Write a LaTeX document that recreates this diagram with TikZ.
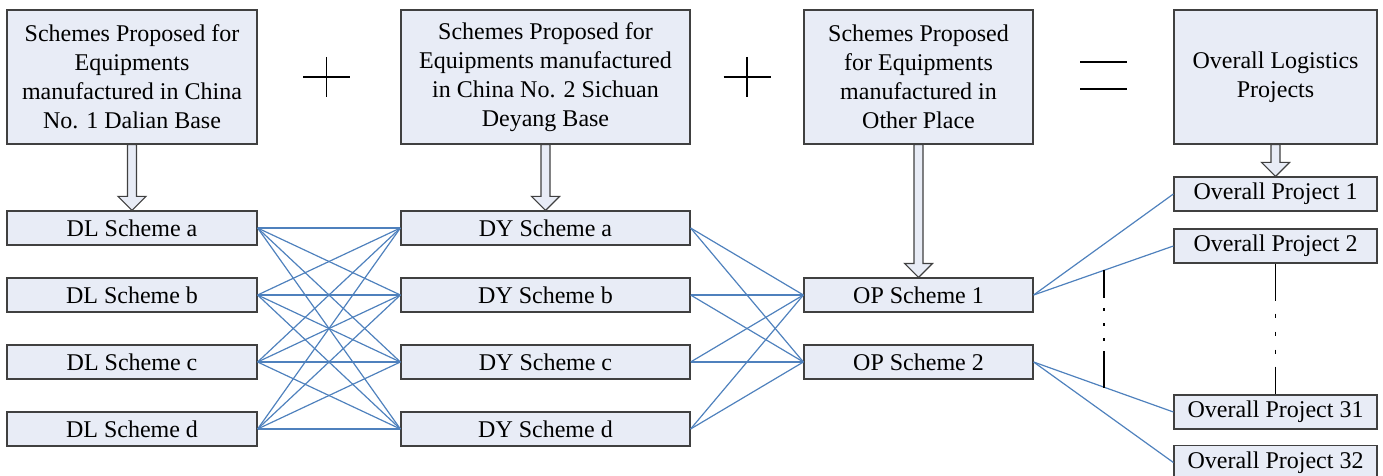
\documentclass[tikz,border=0pt]{standalone}
\usepackage{fontspec}
\setmainfont{Liberation Serif}
\usetikzlibrary{calc}

\definecolor{boxfill}{RGB}{232,236,246}
\definecolor{boxline}{RGB}{64,64,64}
\definecolor{linkblue}{RGB}{79,129,189}

\tikzset{
	box/.style={draw=boxline, fill=boxfill, line width=0.6pt, inner sep=0pt, align=center,
		font=\fontsize{12}{14.5}\selectfont},
	bigbox/.style={box, minimum height=67pt},
	rowbox/.style={box, minimum height=17pt},
	link/.style={draw=linkblue, line width=0.6pt},
	blockarr/.style={draw=boxline, fill=boxfill, line width=0.6pt, line join=miter},
	sign/.style={draw=black, line width=0.55pt}
}

% hollow block arrow from the bottom of #1 to the top of #2
\newcommand{\blockarrow}[2]{%
	\draw[blockarr] ($(#1.south)+(-4.5,0)$) -- ($(#2.north)+(-4.5,-14)$)
		-- ($(#2.north)+(-14,-14)$) -- (#2.north) -- ($(#2.north)+(14,-14)$)
		-- ($(#2.north)+(4.5,-14)$) -- ($(#1.south)+(4.5,0)$) -- cycle;}

\begin{document}
\begin{tikzpicture}[x=0.5pt, y=-0.5pt]
	\useasboundingbox (0,0) rectangle (1383,476);

	\node[bigbox, minimum width=125pt] (dalian) at (132, 77)
		{Schemes Proposed for\\Equipments\\manufactured in China\\No. 1 Dalian Base};
	\node[bigbox, minimum width=144.5pt] (deyang) at (545.5, 77)
		{Schemes Proposed for\\Equipments manufactured\\in China No. 2 Sichuan\\Deyang Base};
	\node[bigbox, minimum width=114.5pt] (other) at (918.5, 77)
		{Schemes Proposed\\for Equipments\\manufactured in\\Other Place};
	\node[bigbox, minimum width=101.5pt] (overall) at (1275.5, 77)
		{Overall Logistics\\Projects};

	\node[rowbox, minimum width=125pt] (dla) at (132, 228) {DL Scheme a};
	\node[rowbox, minimum width=125pt] (dlb) at (132, 295) {DL Scheme b};
	\node[rowbox, minimum width=125pt] (dlc) at (132, 362) {DL Scheme c};
	\node[rowbox, minimum width=125pt] (dld) at (132, 429) {DL Scheme d};

	\node[rowbox, minimum width=144.5pt] (dya) at (545.5, 228) {DY Scheme a};
	\node[rowbox, minimum width=144.5pt] (dyb) at (545.5, 295) {DY Scheme b};
	\node[rowbox, minimum width=144.5pt] (dyc) at (545.5, 362) {DY Scheme c};
	\node[rowbox, minimum width=144.5pt] (dyd) at (545.5, 429) {DY Scheme d};

	\node[rowbox, minimum width=114.5pt] (op1) at (918.5, 295) {OP Scheme 1};
	\node[rowbox, minimum width=114.5pt] (op2) at (918.5, 362) {OP Scheme 2};

	\node[rowbox, minimum width=101.5pt] (ov1)  at (1275.5, 194)   {Overall Project 1};
	\node[rowbox, minimum width=101.5pt] (ov2)  at (1275.5, 246)   {Overall Project 2};
	\node[rowbox, minimum width=101.5pt] (ov31) at (1275.5, 412)   {Overall Project 31};
	\node[rowbox, minimum width=101.5pt] (ov32) at (1275.5, 462.5) {Overall Project 32};

	% plus and equal signs
	\coordinate (plus1) at (326.5, 77);
	\coordinate (plus2) at (747, 77);
	\coordinate (equal) at (1103.5, 75.5);
	\draw[sign] ($(plus1)+(-23.5,0)$) -- ($(plus1)+(23.5,0)$);
	\draw[sign] ($(plus1)+(0,-20)$) -- ($(plus1)+(0,20)$);
	\draw[sign] ($(plus2)+(-23.5,0)$) -- ($(plus2)+(23.5,0)$);
	\draw[sign] ($(plus2)+(0,-20)$) -- ($(plus2)+(0,20)$);
	\draw[sign] ($(equal)+(-23.5,-13.5)$) -- ($(equal)+(23.5,-13.5)$);
	\draw[sign] ($(equal)+(-23.5,13.5)$) -- ($(equal)+(23.5,13.5)$);

	\blockarrow{dalian}{dla}
	\blockarrow{deyang}{dya}
	\blockarrow{other}{op1}
	\blockarrow{overall}{ov1}

	\path[link] (dla.east) edge (dya.west) edge (dyb.west) edge (dyc.west) edge (dyd.west);
	\path[link] (dlb.east) edge (dya.west) edge (dyb.west) edge (dyc.west) edge (dyd.west);
	\path[link] (dlc.east) edge (dya.west) edge (dyb.west) edge (dyc.west) edge (dyd.west);
	\path[link] (dld.east) edge (dya.west) edge (dyb.west) edge (dyc.west) edge (dyd.west);

	\path[link] (dya.east) edge (op1.west) edge (op2.west);
	\path[link] (dyb.east) edge (op1.west) edge (op2.west);
	\path[link] (dyc.east) edge (op1.west) edge (op2.west);
	\path[link] (dyd.east) edge (op1.west) edge (op2.west);

	\path[link] (op1.east) edge (ov1.west) edge (ov2.west);
	\path[link] (op2.east) edge (ov31.west) edge (ov32.west);

	% the projects left out in between
	\coordinate (gaptop) at (1104, 270);
	\coordinate (gapbot) at (1104, 388);
	\draw[sign, dash pattern=on 14pt off 5pt on 1.5pt off 6pt on 1.5pt off 6pt on 1.5pt off 5pt on 20pt]
		(gaptop) -- (gapbot);
	\draw[sign, dash pattern=on 18.5pt off 6.5pt on 2pt off 7pt on 2pt off 7pt on 2pt off 6.5pt on 20pt]
		(ov2.south) -- (ov31.north);

\end{tikzpicture}
\end{document}
